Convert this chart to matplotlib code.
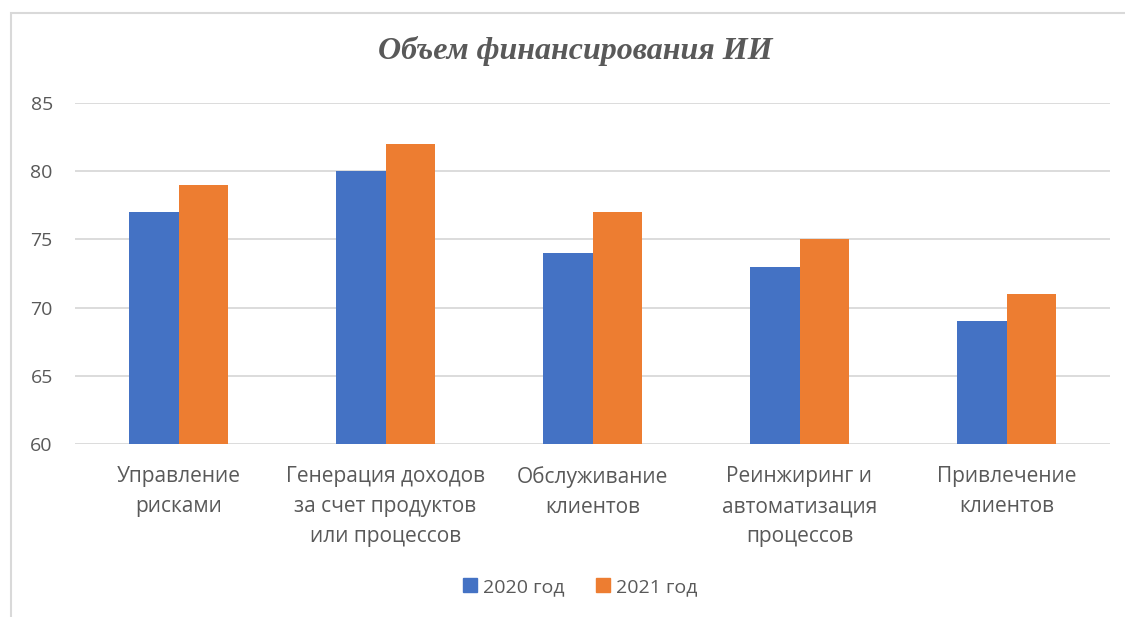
import numpy as np
import matplotlib.pyplot as plt
from matplotlib.patches import Rectangle, Patch

categories = ['Управление\nрисками', 'Генерация доходов\nза счет продуктов\nили процессов',
              'Обслуживание\nклиентов', 'Реинжиринг и\nавтоматизация\nпроцессов', 'Привлечение\nклиентов']
series_names = ['2020 год', '2021 год']
values_2020 = [77, 80, 74, 73, 69]
values_2021 = [79, 82, 77, 75, 71]
yticks = [60, 65, 70, 75, 80, 85]

blue = '#4472c4'
orange = '#ed7d31'
grey = '#595959'
grid = '#d9d9d9'

plt.rcParams['font.family'] = ['Open Sans', 'DejaVu Sans']

fig = plt.figure(figsize=(11.25, 6.17), dpi=100)
ax = fig.add_axes([75/1125, 1-444/617, (1110-75)/1125, (444-103)/617])

x = np.arange(len(categories))
w = 0.237
ax.bar(x - w/2, np.array(values_2020) - 60, w, bottom=60, color=blue, zorder=3)
ax.bar(x + w/2, np.array(values_2021) - 60, w, bottom=60, color=orange, zorder=3)

ax.set_xlim(-0.5, len(categories) - 0.5)
ax.set_ylim(60, 85)
ax.set_yticks(yticks)
ax.set_yticklabels([str(t) for t in yticks])
ax.set_xticks(x)
ax.set_xticklabels(categories, linespacing=1.55)
ax.tick_params(axis='y', length=0, pad=16, labelsize=14, labelcolor=grey)
ax.tick_params(axis='x', length=0, pad=16, labelsize=15, labelcolor=grey)
ax.grid(axis='y', color=grid, lw=1.3, zorder=0)
for s in ax.spines.values():
    s.set_visible(False)

fig.text(575/1125, 1-51/617, 'Объем финансирования ИИ', ha='center', va='center',
         fontsize=23, fontweight='bold', style='italic', color=grey, family='Liberation Serif')

handles = [Patch(color=blue), Patch(color=orange)]
fig.legend(handles, series_names, loc='center', bbox_to_anchor=(580/1125, 1-587/617), ncol=2,
           frameon=False, fontsize=14, labelcolor=grey, handlelength=0.75, handleheight=0.75,
           handletextpad=0.3, columnspacing=1.6)

fig.patches.append(Rectangle((11/1125, -0.1), 1.2, 1-13/617+0.1, transform=fig.transFigure,
                             fill=False, edgecolor=grid, lw=1.5))

fig.savefig('out.png', dpi=100)
